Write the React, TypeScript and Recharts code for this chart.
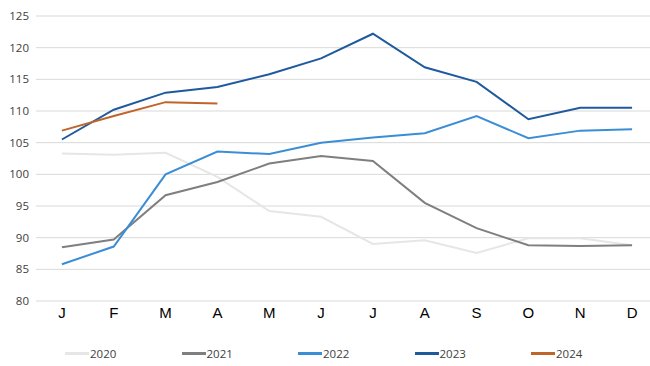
import { CartesianGrid, Line, LineChart, XAxis, YAxis } from "recharts";

const MONTHS = ["J", "F", "M", "A", "M", "J", "J", "A", "S", "O", "N", "D"];
const Y_TICKS = [80, 85, 90, 95, 100, 105, 110, 115, 120, 125];
const EDGE_TICKS = [0, 1, 2, 3, 4, 5, 6, 7, 8, 9, 10, 11, 12];

const S2020 = [103.3, 103.1, 103.4, 99.6, 94.2, 93.3, 89.0, 89.6, 87.6, 89.9, 89.9, 88.8];
const S2021 = [88.5, 89.7, 96.7, 98.8, 101.7, 102.9, 102.1, 95.5, 91.5, 88.8, 88.7, 88.8];
const S2022 = [85.8, 88.6, 100.0, 103.6, 103.2, 105.0, 105.8, 106.5, 109.2, 105.7, 106.9, 107.1];
const S2023 = [105.5, 110.2, 112.9, 113.8, 115.8, 118.3, 122.2, 116.9, 114.6, 108.7, 110.5, 110.5];
const S2024 = [106.9, 109.2, 111.4, 111.2];

const SERIES = [
  { key: "2020", color: "#e6e6e6" },
  { key: "2021", color: "#7f7f7f" },
  { key: "2022", color: "#3b8ed6" },
  { key: "2023", color: "#1f5a9e" },
  { key: "2024", color: "#c0652a" },
];

const data = MONTHS.map((m, i) => ({
  month: `${m}${i}`,
  label: m,
  "2020": S2020[i],
  "2021": S2021[i],
  "2022": S2022[i],
  "2023": S2023[i],
  "2024": S2024[i],
}));

export default function App() {
  return (
    <div
      style={{
        position: "fixed",
        left: 0,
        top: 0,
        width: 650,
        height: 366,
        overflow: "hidden",
        background: "#fff",
      }}
    >
      <LineChart
        data={data}
        height={330}
        margin={{ top: 16, right: 0, bottom: 0, left: 0 }}
        width={658}
      >
        <CartesianGrid horizontal stroke="#d9d9d9" vertical={false} />
        <XAxis
          axisLine={{ stroke: "#a6a6a6" }}
          domain={[0, 12]}
          height={0}
          mirror
          tick={false}
          tickLine={{ stroke: "#a6a6a6" }}
          tickSize={4}
          ticks={EDGE_TICKS}
          type="number"
          xAxisId="edge"
        />
        <XAxis
          axisLine={false}
          dataKey="month"
          height={29}
          interval={0}
          scale="band"
          tick={{
            fill: "#000",
            fontFamily: "Liberation Sans, Arial, sans-serif",
            fontSize: 15,
          }}
          tickFormatter={(v: string) => v.charAt(0)}
          tickLine={false}
          tickMargin={6}
          tickSize={0}
          xAxisId="cat"
        />
        <YAxis
          axisLine={false}
          domain={[80, 125]}
          tick={{
            fill: "#404040",
            fontFamily: "Open Sans, sans-serif",
            fontSize: 11.5,
          }}
          tickLine={false}
          tickMargin={7}
          tickSize={0}
          ticks={Y_TICKS}
          width={36}
        />
        {SERIES.map((s) => (
          <Line
            dataKey={s.key}
            dot={false}
            isAnimationActive={false}
            key={s.key}
            stroke={s.color}
            strokeWidth={2}
            type="linear"
            xAxisId="cat"
          />
        ))}
      </LineChart>
      <div
        style={{
          position: "absolute",
          top: 346,
          left: 65,
          display: "flex",
          fontFamily: "Open Sans, sans-serif",
          fontSize: 11.5,
          color: "#404040",
        }}
      >
        {SERIES.map((s) => (
          <div
            key={s.key}
            style={{ display: "flex", alignItems: "center", width: 116.5 }}
          >
            <span
              style={{
                display: "inline-block",
                width: 24,
                height: 3,
                background: s.color,
                marginRight: 1,
              }}
            />
            <span>{s.key}</span>
          </div>
        ))}
      </div>
    </div>
  );
}
